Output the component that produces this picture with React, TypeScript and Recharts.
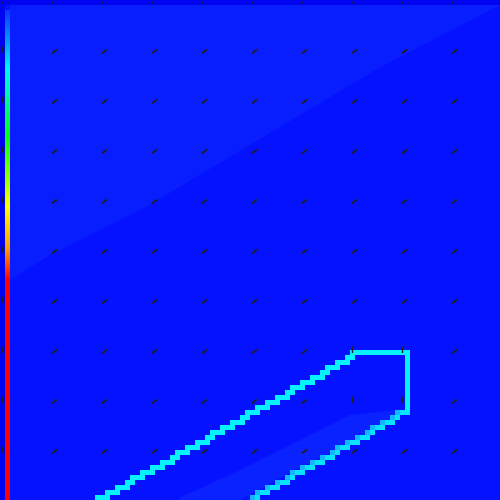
import { ComposedChart, XAxis, YAxis, Area, Scatter, ReferenceArea } from 'recharts';

// grid is 100 x 100 cells, y = row index from the top
const upperContour: [number, number, number][] = [
  [99, 19, 21], [98, 21, 23], [97, 23, 25], [96, 25, 26], [95, 26, 28], [94, 28, 30],
  [93, 30, 32], [92, 32, 34], [91, 34, 35], [90, 35, 37], [89, 37, 39], [88, 39, 41],
  [87, 41, 42], [86, 42, 44], [85, 44, 46], [84, 46, 48], [83, 48, 49], [82, 49, 51],
  [81, 51, 53], [80, 53, 55], [79, 55, 57], [78, 57, 58], [77, 58, 60], [76, 60, 62],
  [75, 62, 64], [74, 64, 65], [73, 65, 67], [72, 67, 69], [71, 69, 70], [70, 70, 81],
  [71, 81, 81], [72, 81, 81], [73, 81, 81], [74, 81, 81], [75, 81, 81], [76, 81, 81],
  [77, 81, 81], [78, 81, 81], [79, 81, 81], [80, 81, 81], [81, 81, 81],
];

const lowerContour: [number, number, number][] = [
  [82, 79, 81], [83, 78, 79], [84, 76, 78], [85, 74, 76], [86, 73, 74], [87, 71, 73],
  [88, 69, 71], [89, 67, 69], [90, 66, 67], [91, 64, 66], [92, 62, 64], [93, 60, 62],
  [94, 58, 60], [95, 57, 58], [96, 55, 57], [97, 53, 55], [98, 51, 53], [99, 50, 51],
];

// boundary of the lighter upper-left field
const lightEdge = [
  { x: 2, edge: [1, 56] },
  { x: 10, edge: [1, 51] },
  { x: 29, edge: [1, 41.5] },
  { x: 76, edge: [1, 13.5] },
  { x: 100, edge: [1, 1] },
];

// lighter band along the lower contour
const bandEdge = [
  { x: 36, band: [99.5, 100] },
  { x: 48, band: [94, 100] },
  { x: 60, band: [88, 93.5] },
  { x: 70, band: [83, 88.5] },
  { x: 79, band: [82, 83.5] },
  { x: 81, band: [82, 82.5] },
];

// arrow field, one string per sampled row (every 10 cells)
const arrowRows = [0, 10, 20, 30, 40, 50, 60, 70, 80, 90];
const arrowGrid = [
  '..........',
  '|/////////',
  '|/////////',
  '|/////////',
  '|/////////',
  '|/////////',
  '|/////////',
  '|//////||/',
  '|//////||/',
  '|/////////',
];

const colorStops = [
  { offset: 0, color: '#0a34ff' },
  { offset: 0.12, color: '#00f4ff' },
  { offset: 0.26, color: '#00ff10' },
  { offset: 0.4, color: '#ffff00' },
  { offset: 0.49, color: '#ff9800' },
  { offset: 0.55, color: '#ff0000' },
  { offset: 1, color: '#ff0000' },
];

const CELL = 5;
const MAIN = '#0412ff';
const LIGHT = '#081eff';
const BAND = '#0a22ff';
const DARK = '#0004f0';

const upperCells = upperContour.flatMap(([row, a, b]) => {
  const out = [];
  for (let c = a; c <= b; c++) out.push({ x: c + 0.5, y: row + 0.5, color: '#06f2ff' });
  return out;
});

const lowerCells = lowerContour.flatMap(([row, a, b]) => {
  const out = [];
  for (let c = a; c <= b; c++) out.push({ x: c + 0.5, y: row + 0.5, color: c === a ? '#12b8ff' : '#06e2ff' });
  return out;
});

const arrows = arrowRows.flatMap((row, i) =>
  arrowGrid[i].split('').map((kind, j) => ({ x: j * 10 + 0.5, y: row + 0.5, kind }))
);

const CellShape = (props: any) => {
  const { cx, cy, payload } = props;
  return (
    <rect x={cx - CELL / 2} y={cy - CELL / 2} width={CELL} height={CELL}
      fill={payload.color} shapeRendering="crispEdges" />
  );
};

const ArrowShape = (props: any) => {
  const { cx, cy, payload } = props;
  const ink = '#1e1e2a';
  if (payload.kind === '.') return <rect x={cx - 1} y={cy - 1} width={2} height={2} fill={ink} />;
  if (payload.kind === '|') return <line x1={cx} y1={cy + 0.5} x2={cx} y2={cy - 6} stroke={ink} strokeWidth={1.4} />;
  return (
    <g>
      <line x1={cx - 0.5} y1={cy + 0.8} x2={cx + 4.5} y2={cy - 3} stroke={ink} strokeWidth={1.8} />
    </g>
  );
};

export default function App() {
  return (
    <div style={{ position: 'fixed', left: 0, top: 0, width: 500, height: 500, background: DARK }}>
      <div style={{ position: 'absolute', left: CELL, top: CELL, right: 0, bottom: 0, background: MAIN }} />
      <svg width={0} height={0} style={{ position: 'absolute' }}>
        <defs>
          <linearGradient id="cbar" x1="0" y1="0" x2="0" y2="1">
            {colorStops.map((s) => (
              <stop key={s.offset} offset={s.offset} stopColor={s.color} />
            ))}
          </linearGradient>
        </defs>
      </svg>
      <div style={{ position: 'absolute', left: 0, top: 0 }}>
        <ComposedChart width={500} height={500} margin={{ top: 0, right: 0, bottom: 0, left: 0 }}>
          <XAxis type="number" dataKey="x" domain={[0, 100]} hide allowDataOverflow />
          <YAxis type="number" dataKey="y" domain={[0, 100]} reversed hide allowDataOverflow />
          <Area data={lightEdge} dataKey="edge" type="linear" fill={LIGHT} fillOpacity={1}
            stroke="none" isAnimationActive={false} />
          <Area data={bandEdge} dataKey="band" type="linear" fill={BAND} fillOpacity={1}
            stroke="none" isAnimationActive={false} />
          <ReferenceArea x1={1} x2={2} y1={2} y2={100} fill="url(#cbar)" fillOpacity={1} stroke="none" />
          <Scatter data={upperCells} shape={CellShape} isAnimationActive={false} />
          <Scatter data={lowerCells} shape={CellShape} isAnimationActive={false} />
          <Scatter data={arrows} shape={ArrowShape} isAnimationActive={false} />
        </ComposedChart>
      </div>
    </div>
  );
}
